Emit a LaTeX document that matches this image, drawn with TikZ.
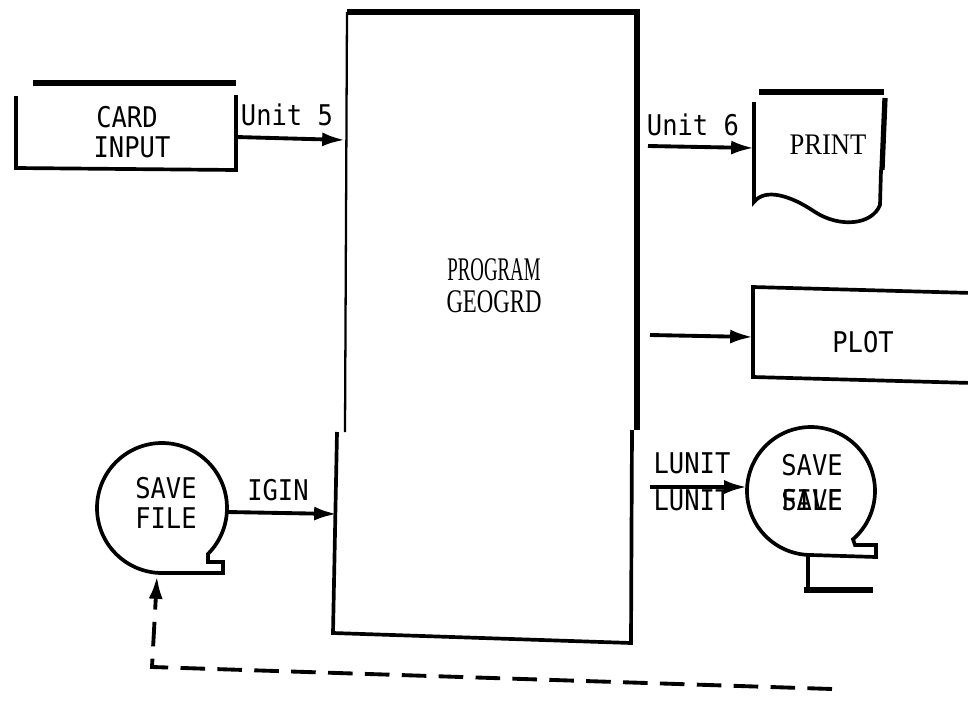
\documentclass[tikz,border=0pt]{standalone}
\usepackage{fontspec}
\usepackage{graphicx}
\usetikzlibrary{arrows.meta}
\newfontfamily\typefont{DejaVu Sans Mono}
\newfontfamily\serfont{Liberation Serif}
\newcommand{\tallt}[1]{\scalebox{1}[1.12]{#1}}
\tikzset{
  ln/.style={line width=2.1pt, line join=miter},
  thk/.style={line width=3pt},
  thn/.style={line width=1.3pt},
  arr/.style={line width=2.2pt, -{Latex[length=13pt,width=8pt]}},
  dsh/.style={line width=2.2pt, dash pattern=on 14pt off 7pt, -{Latex[length=13pt,width=8pt]}},
  tt/.style={font=\typefont\fontsize{14.5}{17}\selectfont, inner sep=0pt},
  sr/.style={font=\serfont, inner sep=0pt}
}
\begin{document}
\begin{tikzpicture}[x=0.02cm,y=-0.02cm]
\useasboundingbox (0,0) rectangle (968,717);

% ---- program box ----
\draw[thn] (345,432) -- (347,12);
\draw[thk] (347,12) -- (637,12) -- (637,430);
\draw[ln] (337,432) -- (333,633) -- (631,643) -- (632,430);
\node[sr] (progA) at (494,270) {\scalebox{0.57}[1]{\fontsize{18.8}{22}\selectfont PROGRAM}};
\node[sr] (progB) at (494,302) {\scalebox{0.69}[1]{\fontsize{18.8}{22}\selectfont GEOGRD}};
\coordinate (p5) at (345,140);
\coordinate (pig) at (337,514);
\coordinate (p6) at (648,146);
\coordinate (ppl) at (650,335);
\coordinate (plu) at (650,487);

% ---- card input ----
\draw[thk] (33,83) -- (236,83);
\draw[ln] (16,96) -- (16,168) -- (236,170) -- (236,95);
\node[tt] (card1) at (127,117) {\tallt{CARD}};
\node[tt] (card2) at (132,147) {\tallt{INPUT}};
\coordinate (cardE) at (236,137);
\node[tt] (u5) at (287,115) {\tallt{Unit 5}};
\draw[arr] (cardE) -- (p5);

% ---- print ----
\draw[thk] (759,92) -- (884,92);
\draw[ln] (754,102) -- (754,202) .. controls (765,188) and (790,195) .. (815,212)
  .. controls (840,228) and (872,225) .. (880,205) -- (881,170);
\draw[thk] (885,98) -- (882,170);
\node[sr] (print) at (828,145) {\scalebox{0.89}[1]{\fontsize{17}{20}\selectfont PRINT}};
\coordinate (printW) at (754,148);
\node[tt] (u6) at (693,125) {\tallt{Unit 6}};
\draw[arr] (p6) -- (printW);

% ---- plot ----
\draw[ln] (972,293) -- (753,287) -- (753,377) -- (972,383);
\node[tt] (plot) at (863,342) {\tallt{PLOT}};
\coordinate (plotW) at (753,337);
\draw[arr] (ppl) -- (plotW);

% ---- save file (left) ----
\coordinate (sf) at (162,508);
\draw[ln] (sf) ++(45:65) arc[start angle=45, end angle=-270, radius=65]
  -- (223,573) -- (223,562) -- (208,562) -- cycle;
\node[tt] (sf1) at (166,488) {\tallt{SAVE}};
\node[tt] (sf2) at (166,518) {\tallt{FILE}};
\coordinate (sfE) at (227,512);
\coordinate (sfS) at (157,576);
\node[tt] (igin) at (278,490) {\tallt{IGIN}};
\draw[arr] (sfE) -- (pig);

% ---- save (right) ----
\coordinate (sv) at (811,491);
\draw[ln] (sv) ++(49:64) arc[start angle=49, end angle=-270, radius=64]
  -- (876,557) -- (876,545) -- (855,545) -- cycle;
\coordinate (stemT) at (808,556);
\coordinate (stemB) at (808,590);
\draw[ln] (stemT) -- (stemB);
\draw[thk] (804,590) -- (873,590);
\node[tt] (sv1) at (812,465) {\tallt{SAVE}};
\node[tt] (sv2) at (812,500) {\tallt{SAVE}};
\node[tt] (sv3) at (812,500) {\tallt{FILE}};
\node[tt] (lu1) at (692,463) {\tallt{LUNIT}};
\node[tt] (lu2) at (692,500) {\tallt{LUNIT}};
\coordinate (svW) at (747,487);
\draw[arr] (plu) -- (svW);

% ---- dashed return ----
\coordinate (dR) at (832,689);
\coordinate (dL) at (152,667);
\draw[dsh] (dR) -- (dL) -- (sfS);
\end{tikzpicture}
\end{document}
